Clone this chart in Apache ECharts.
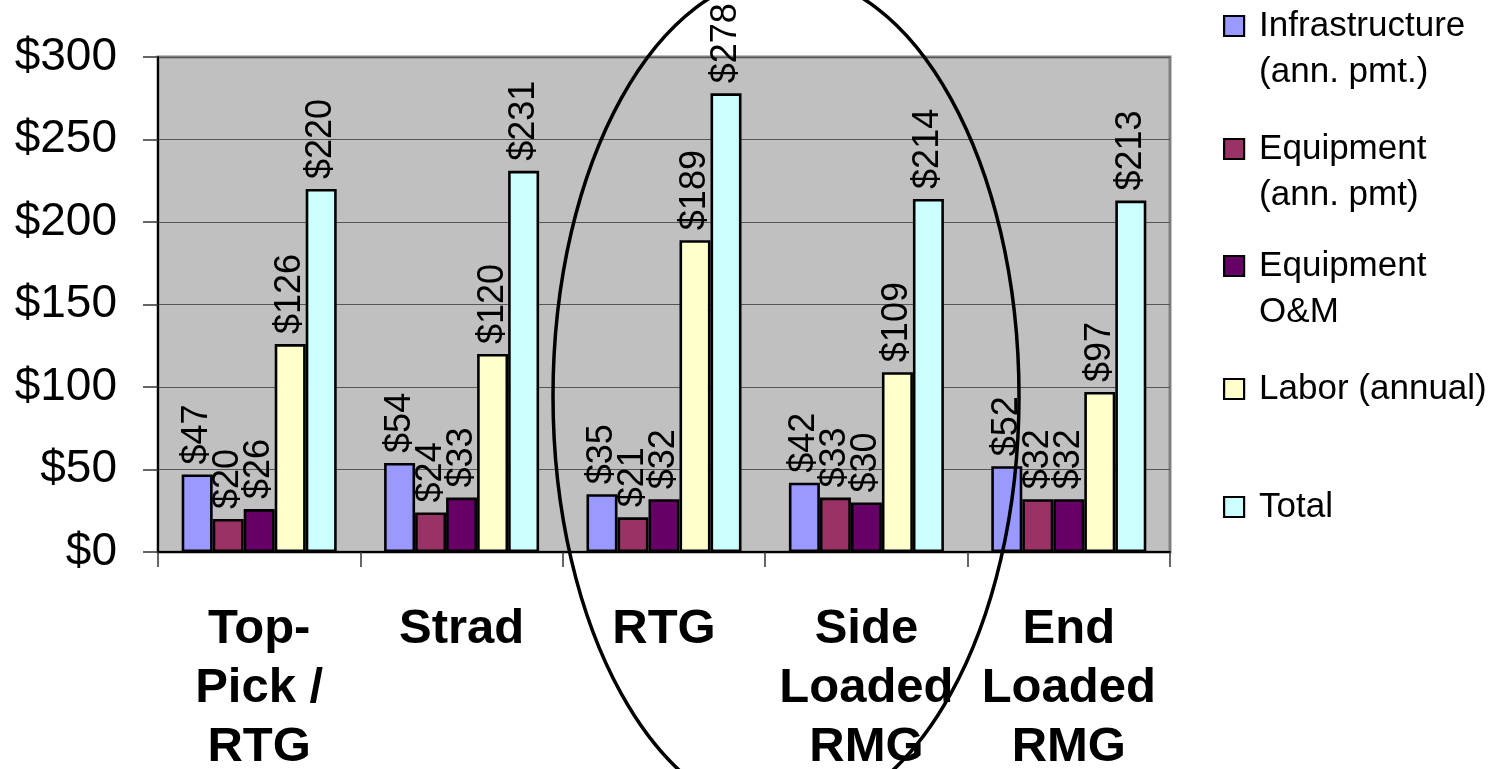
<!DOCTYPE html>
<html>
<head>
<meta charset="utf-8">
<script src="https://cdn.jsdelivr.net/npm/echarts@6/dist/echarts.min.js"></script>
<style>
html,body{margin:0;padding:0;background:#fff;}
#chart{width:1503px;height:769px;}
</style>
</head>
<body>
<div id="chart"></div>
<script>
const categories = ['Top-\nPick /\nRTG', 'Strad', 'RTG', 'Side\nLoaded\nRMG', 'End\nLoaded\nRMG'];
const seriesNames = ['Infrastructure (ann. pmt.)', 'Equipment (ann. pmt)', 'Equipment O&M', 'Labor (annual)', 'Total'];
const legendLabels = ['Infrastructure\n(ann. pmt.)', 'Equipment\n(ann. pmt)', 'Equipment\nO&M', 'Labor (annual)', 'Total'];
const infrastructure = [47, 54, 35, 42, 52];
const equipmentPmt = [20, 24, 21, 33, 32];
const equipmentOM = [26, 33, 32, 30, 32];
const labor = [126, 120, 189, 109, 97];
const total = [220, 231, 278, 214, 213];
const yTicks = [0, 50, 100, 150, 200, 250, 300];

const seriesData = [infrastructure, equipmentPmt, equipmentOM, labor, total];
const colors = ['#9999FF', '#993366', '#660066', '#FFFFCC', '#CCFFFF'];
const FONT = '"Liberation Sans", Arial, sans-serif';

const chart = echarts.init(document.getElementById('chart'), null, {renderer: 'canvas'});

const series = seriesNames.map((name, i) => ({
  name: name,
  type: 'bar',
  data: seriesData[i],
  barGap: '0%',
  barCategoryGap: '23.4%',
  itemStyle: {color: colors[i], borderColor: '#000', borderWidth: 2.6},
  label: {
    show: true,
    position: 'top',
    rotate: 90,
    align: 'left',
    verticalAlign: 'middle',
    distance: 10,
    fontSize: 36,
    fontFamily: FONT,
    color: '#000',
    formatter: p => '$' + p.value
  },
  emphasis: {disabled: true},
  z: 3
}));

const markerCenters = [26, 149, 266, 389, 507];
const legends = seriesNames.map((name, i) => {
  const twoLine = legendLabels[i].indexOf('\n') >= 0;
  return {
    show: true,
    orient: 'vertical',
    left: 1223,
    top: twoLine ? markerCenters[i] - 69 : markerCenters[i] - 23,
    padding: 0,
    itemWidth: 20,
    itemHeight: 20,
    icon: 'rect',
    selectedMode: false,
    data: [name],
    formatter: () => (twoLine ? ' \n' : '') + legendLabels[i],
    itemStyle: {borderColor: '#000', borderWidth: 2.2},
    textStyle: {
      fontSize: 35,
      fontFamily: FONT,
      color: '#000',
      lineHeight: 46,
      padding: [0, 0, 0, 10]
    }
  };
});

const option = {
  animation: false,
  backgroundColor: '#fff',
  color: colors,
  grid: {
    left: 158, right: 333, top: 57, bottom: 217,
    containLabel: false,
    outerBoundsMode: 'none',
    show: true,
    backgroundColor: '#C0C0C0',
    borderColor: '#808080',
    borderWidth: 3
  },
  legend: legends,
  xAxis: {
    type: 'category',
    data: categories,
    axisLine: {show: true, lineStyle: {color: '#000', width: 2}},
    axisTick: {show: true, length: 15, alignWithLabel: false, lineStyle: {color: '#333', width: 1.5}},
    axisLabel: {
      interval: 0,
      fontSize: 49,
      fontWeight: 'bold',
      fontFamily: FONT,
      color: '#000',
      lineHeight: 59,
      margin: 48
    },
    splitLine: {show: false}
  },
  yAxis: {
    type: 'value',
    min: yTicks[0],
    max: yTicks[yTicks.length - 1],
    interval: 50,
    axisLine: {show: true, lineStyle: {color: '#000', width: 2}},
    axisTick: {show: true, length: 15, lineStyle: {color: '#333', width: 1.5}},
    axisLabel: {
      fontSize: 46,
      fontFamily: FONT,
      color: '#000',
      margin: 41,
      formatter: v => '$' + v
    },
    splitLine: {show: true, lineStyle: {color: '#555', width: 1.2}}
  },
  series: series,
  graphic: [{
    type: 'ellipse',
    shape: {cx: 786, cy: 396, rx: 233, ry: 421},
    style: {fill: 'none', stroke: '#000', lineWidth: 3.5},
    z: 100,
    silent: true
  }]
};
chart.setOption(option);
</script>
</body>
</html>
